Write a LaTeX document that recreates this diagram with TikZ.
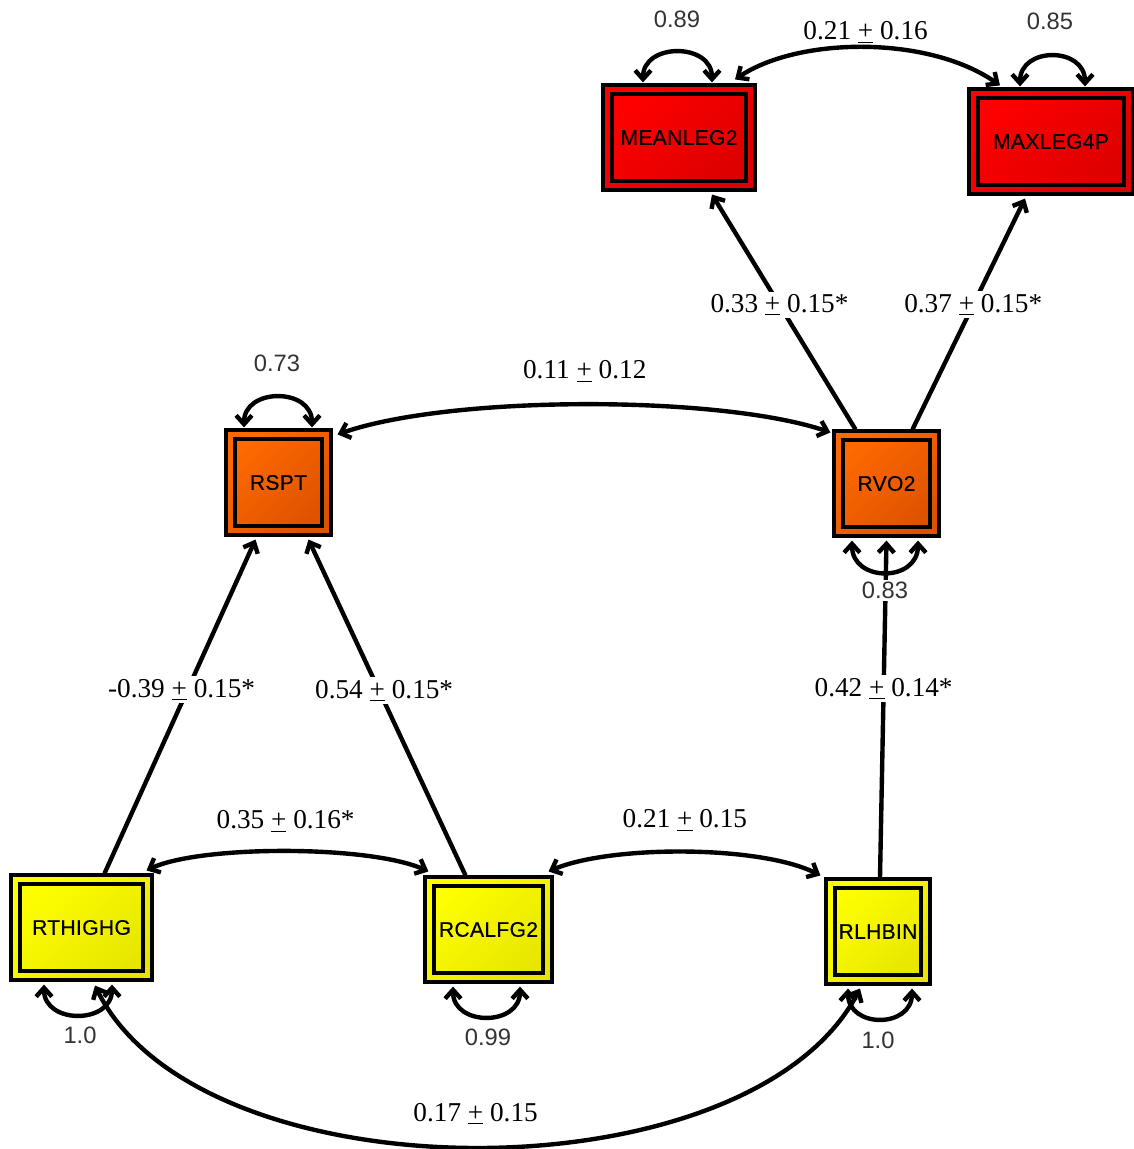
\documentclass[tikz,border=0pt]{standalone}
\usepackage{fontspec}
\setmainfont{Liberation Serif}
\newfontfamily\lsans{Liberation Sans}
\newfontfamily\boxsans[FakeBold=0.4,LetterSpace=1.5]{Liberation Sans}
\usetikzlibrary{calc,arrows.meta}
\newcommand\pmu{\underline{+}}
\definecolor{redA}{HTML}{FF0000}\definecolor{redB}{HTML}{DC0000}
\definecolor{orA}{HTML}{FF6A00}\definecolor{orB}{HTML}{DD5200}
\definecolor{yeA}{HTML}{FFFF00}\definecolor{yeB}{HTML}{E6E600}
\definecolor{loopgray}{HTML}{333333}
\tikzset{
  var/.style={draw=black, line width=1.8pt, inner sep=0pt,
    font=\boxsans\fontsize{12}{14}\selectfont,
    path picture={\draw[line width=1.8pt]
      ($(path picture bounding box.south west)+(0.18cm,0.18cm)$) rectangle
      ($(path picture bounding box.north east)-(0.18cm,0.18cm)$);}},
  redbox/.style={var, top color=redA, bottom color=redB, shading angle=45},
  orbox/.style={var, top color=orA, bottom color=orB, shading angle=45},
  yebox/.style={var, top color=yeA, bottom color=yeB, shading angle=45},
  tip/.tip={Straight Barb[length=5pt,width=9pt]},
  path/.style={line width=2.5pt, -tip},
  cov/.style={line width=2.5pt, tip-tip},
  lbl/.style={font=\fontsize{15.5}{18}\selectfont, fill=white, inner sep=1.5pt},
  loopl/.style={font=\lsans\fontsize{13.5}{16}\selectfont, text=loopgray, inner sep=1pt},
}
\begin{document}
\begin{tikzpicture}[x=0.02cm, y=-0.02cm]
\useasboundingbox[fill=white] (0,0) rectangle (1133,1149);

% observed variables
\node[redbox, minimum width=3.04cm, minimum height=2.1cm] (mean) at (679,137.5) {MEANLEG2};
\node[redbox, minimum width=3.28cm, minimum height=2.1cm] (maxl) at (1051,141.5) {MAXLEG4P};
\node[orbox, minimum width=2.1cm, minimum height=2.1cm] (rspt) at (278.5,482.5) {RSPT};
\node[orbox, minimum width=2.1cm, minimum height=2.1cm] (rvo2) at (886.5,483.5) {RVO2};
\node[yebox, minimum width=2.82cm, minimum height=2.1cm] (rthi) at (81.5,927.5) {RTHIGHG};
\node[yebox, minimum width=2.54cm, minimum height=2.1cm] (rcal) at (488.5,929.5) {RCALFG2};
\node[yebox, minimum width=2.08cm, minimum height=2.1cm] (rlhb) at (878,931.5) {RLHBIN};

% regression paths
\draw[path] ($(rvo2.north)+(-31,0)$) -- node[lbl, pos=0.53] {0.33 \pmu{} 0.15*} ($(mean.south)+(33,3)$);
\draw[path] ($(rvo2.north)+(26,0)$) -- node[lbl, pos=0.54] {0.37 \pmu{} 0.15*} ($(maxl.south)+(-26,3)$);
\draw[path] ($(rthi.north)+(23,0)$) -- node[lbl, pos=0.55, xshift=-0.12cm] {-0.39 \pmu{} 0.15*} ($(rspt.south)+(-23,3)$);
\draw[path] ($(rcal.north)+(-23,0)$) -- node[lbl, pos=0.55, xshift=0.1cm] {0.54 \pmu{} 0.15*} ($(rspt.south)+(30,3)$);
\draw[path] ($(rlhb.north)+(2,0)$) -- node[lbl, pos=0.56] {0.42 \pmu{} 0.14*} ($(rvo2.south)+(0,3)$);

% covariances
\draw[cov] ($(mean.north)+(56,-4)$) .. controls (800,36) and (930,36) ..
  node[lbl, pos=0.5, yshift=0.3cm, fill=none] {0.21 \pmu{} 0.16} ($(maxl.north)+(-51,-2)$);
\draw[cov] ($(rspt.north east)+(5,6)$) .. controls (450,395) and (720,395) ..
  node[lbl, pos=0.5, yshift=0.66cm, fill=none] {0.11 \pmu{} 0.12} ($(rvo2.north west)+(-2,3)$);
\draw[cov] ($(rthi.north east)+(-7,-3)$) .. controls (200,845) and (370,845) ..
  node[lbl, pos=0.5, yshift=0.6cm, fill=none] {0.35 \pmu{} 0.16*} ($(rcal.north west)+(5,-4)$);
\draw[cov] ($(rcal.north east)+(-5,-4)$) .. controls (610,845) and (760,845) ..
  node[lbl, pos=0.5, yshift=0.64cm, fill=none] {0.21 \pmu{} 0.15} ($(rlhb.north west)+(-4,-2)$);
\draw[cov] ($(rthi.south)+(13.5,4)$) .. controls (200,1200) and (750,1200) ..
  node[lbl, pos=0.5, yshift=0.66cm, fill=none] {0.17 \pmu{} 0.15} ($(rlhb.south)+(-18,3)$);

% error variances
\draw[cov] ($(mean.north)+(-36,-1)$) .. controls +(0,-40) and +(0,-40) .. ($(mean.north)+(33,-1)$);
\draw[cov] ($(maxl.north)+(-31,-1)$) .. controls +(0,-40) and +(0,-40) .. ($(maxl.north)+(34,-1)$);
\draw[cov] ($(rspt.north)+(-34.5,-1)$) .. controls +(0,-40) and +(0,-40) .. ($(rspt.north)+(33.5,-1)$);
\draw[cov] ($(rvo2.south)+(-34.5,3)$) .. controls +(0,42) and +(0,42) .. ($(rvo2.south)+(31.5,3)$);
\draw[cov] ($(rthi.south)+(-37.5,3)$) .. controls +(0,40) and +(0,40) .. ($(rthi.south)+(30.5,3)$);
\draw[cov] ($(rcal.south)+(-35.5,3)$) .. controls +(0,40) and +(0,40) .. ($(rcal.south)+(31.5,3)$);
\draw[cov] ($(rlhb.south)+(-30,3)$) .. controls +(0,40) and +(0,40) .. ($(rlhb.south)+(34,3)$);

\node[loopl] (l1) at ($(mean.north)+(-2,-64)$) {0.89};
\node[loopl] (l2) at ($(maxl.north)+(-1,-66)$) {0.85};
\node[loopl] (l3) at ($(rspt.north)+(-1.5,-65)$) {0.73};
\node[loopl, fill=white] (l4) at ($(rvo2.south)+(-1.5,53)$) {0.83};
\node[loopl] (l5) at ($(rthi.south)+(-1.5,54)$) {1.0};
\node[loopl] (l6) at ($(rcal.south)+(-0.5,54)$) {0.99};
\node[loopl] (l7) at ($(rlhb.south)+(0,55)$) {1.0};
\end{tikzpicture}
\end{document}
